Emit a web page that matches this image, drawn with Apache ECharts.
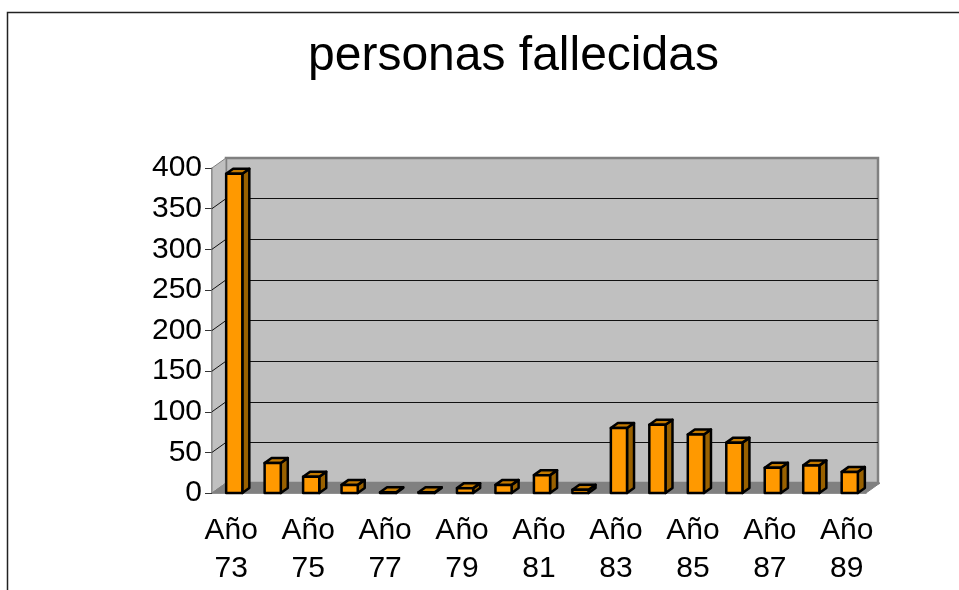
<!DOCTYPE html>
<html>
<head>
<meta charset="utf-8">
<script src="https://cdn.jsdelivr.net/npm/echarts@6/dist/echarts.min.js"></script>
<style>
  html, body { margin: 0; padding: 0; background: #fff; }
  #chart { width: 959px; height: 590px; }
</style>
</head>
<body>
<div id="chart"></div>
<script>
const categories = ['Año 73', 'Año 74', 'Año 75', 'Año 76', 'Año 77', 'Año 78', 'Año 79', 'Año 80', 'Año 81',
  'Año 82', 'Año 83', 'Año 84', 'Año 85', 'Año 86', 'Año 87', 'Año 88', 'Año 89']
const fallecidos = [393, 37, 20, 10, 1, 1, 6, 10, 22, 4, 80, 84, 72, 62, 31, 34, 26]
const yTicks = [0, 50, 100, 150, 200, 250, 300, 350, 400]

// profundidad de la pared / suelo
const DX = 14
const DY = -10
// profundidad de cada barra
const BDX = 7
const BDY = -5

const chart = echarts.init(document.getElementById('chart'))

const renderWalls = (params, api) => {
  const cs = params.coordSys
  const x = cs.x, y = cs.y, w = cs.width, h = cs.height
  const children = [
    {
      type: 'polygon',
      shape: { points: [[x, y], [x, y + h], [x + DX, y + h + DY], [x + DX, y + DY]] },
      style: { fill: '#C0C0C0', stroke: '#808080', lineWidth: 1 }
    },
    {
      type: 'polygon',
      shape: { points: [[x, y + h], [x + w, y + h], [x + w + DX, y + h + DY], [x + DX, y + h + DY]] },
      style: { fill: '#808080', stroke: '#808080', lineWidth: 1 }
    }
  ]
  yTicks.slice(1, -1).forEach(v => {
    const py = api.coord([0, v])[1]
    children.push({
      type: 'line',
      shape: { x1: x, y1: py, x2: x + DX, y2: py + DY },
      style: { stroke: '#111', lineWidth: 1 }
    })
  })
  return { type: 'group', children }
}

const renderBar = (params, api) => {
  const base = api.coord([api.value(0), 0])
  const top = api.coord([api.value(0), api.value(1)])
  const band = api.size([1, 0])[0]
  const fw = band * 0.42
  const x0 = base[0] - fw / 2 + 3
  const ty = top[1]
  const by = base[1]
  const line = { stroke: '#000', lineWidth: 2.5, lineJoin: 'round' }
  return {
    type: 'group',
    children: [
      {
        type: 'polygon',
        shape: { points: [[x0 + fw, ty], [x0 + fw, by], [x0 + fw + BDX, by + BDY], [x0 + fw + BDX, ty + BDY]] },
        style: Object.assign({ fill: '#996100' }, line)
      },
      {
        type: 'polygon',
        shape: { points: [[x0, ty], [x0 + fw, ty], [x0 + fw + BDX, ty + BDY], [x0 + BDX, ty + BDY]] },
        style: Object.assign({ fill: '#C47A00' }, line)
      },
      {
        type: 'rect',
        shape: { x: x0, y: ty, width: fw, height: by - ty },
        style: Object.assign({ fill: '#FF9900' }, line)
      }
    ]
  }
}

chart.setOption({
  animation: false,
  title: {
    text: 'personas fallecidas',
    left: 303,
    top: 28,
    textStyle: { fontFamily: 'Liberation Sans', fontWeight: 'normal', fontSize: 48, color: '#000' }
  },
  graphic: [{
    type: 'rect',
    shape: { x: 7.5, y: 12.5, width: 1000, height: 1000 },
    style: { fill: 'none', stroke: '#222', lineWidth: 1.5 },
    z: 100
  }],
  grid: [
    {
      left: 226, top: 158, width: 652, height: 325,
      show: true, backgroundColor: '#C0C0C0', borderColor: '#808080', borderWidth: 2.5
    },
    { left: 212, top: 168, width: 654, height: 325 }
  ],
  xAxis: [
    {
      gridIndex: 0, type: 'category', data: categories,
      axisLine: { show: false }, axisTick: { show: false }, axisLabel: { show: false }
    },
    {
      gridIndex: 1, type: 'category', data: categories,
      axisLine: { lineStyle: { color: '#808080', width: 1.5 } },
      axisTick: { interval: 0, length: 7, lineStyle: { color: '#808080', width: 1.5 } },
      axisLabel: {
        interval: 1, margin: 19, lineHeight: 38,
        fontFamily: 'Liberation Sans', fontSize: 30, color: '#000',
        formatter: v => v.replace(' ', '\n')
      }
    }
  ],
  yAxis: [
    {
      gridIndex: 0, type: 'value', min: 0, max: 400, interval: 50,
      axisLine: { show: false }, axisTick: { show: false }, axisLabel: { show: false },
      splitLine: { show: true, showMinLine: false, showMaxLine: false, lineStyle: { color: '#111', width: 1 } }
    },
    {
      gridIndex: 1, type: 'value', min: 0, max: 400, interval: 50,
      axisLine: { show: true, lineStyle: { color: '#808080', width: 1.5 } },
      axisTick: { show: true, length: 7, lineStyle: { color: '#333', width: 1 } },
      axisLabel: { margin: 10, fontFamily: 'Liberation Sans', fontSize: 30, color: '#000' },
      splitLine: { show: false }
    }
  ],
  series: [
    {
      type: 'custom', xAxisIndex: 1, yAxisIndex: 1, z: 1, silent: true,
      renderItem: renderWalls,
      data: [[0, 0]]
    },
    {
      type: 'custom', name: 'personas fallecidas', xAxisIndex: 1, yAxisIndex: 1, z: 5,
      renderItem: renderBar,
      encode: { x: 0, y: 1 },
      data: fallecidos.map((v, i) => [i, v])
    }
  ]
})
</script>
</body>
</html>
